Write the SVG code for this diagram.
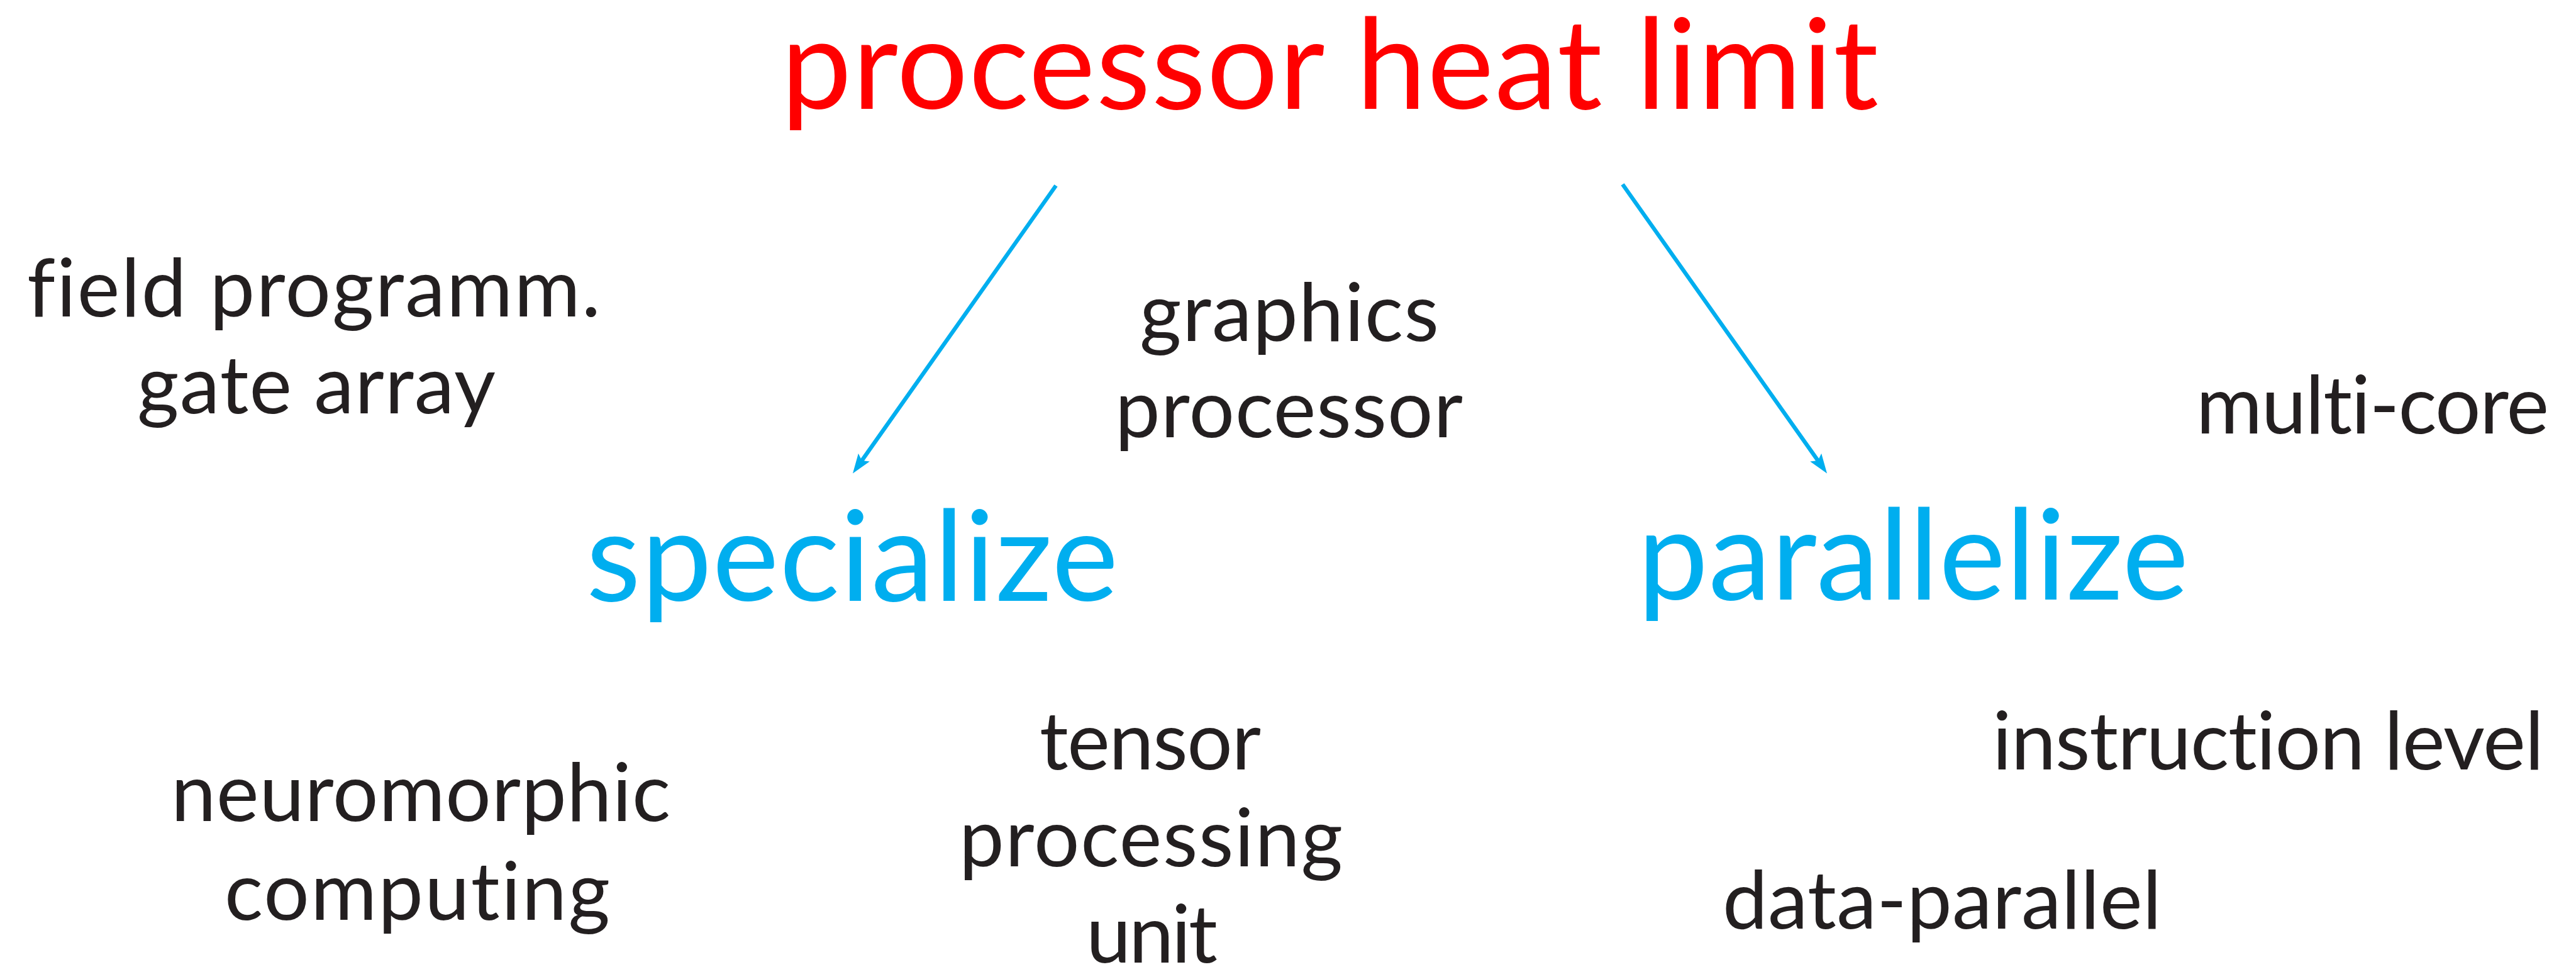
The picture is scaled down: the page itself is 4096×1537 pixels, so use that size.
<svg xmlns="http://www.w3.org/2000/svg" width="4096" height="1537" viewBox="0 0 4096 1537">
<defs>
<style>
text { font-family: Lato, "Open Sans", "Liberation Sans", sans-serif; font-weight: 400; font-variant-ligatures: none; font-feature-settings: "liga" 0, "dlig" 0; }
.big { font-size: 200px; }
.red { fill: #FF0000; }
.blue { fill: #00AEEF; }
.lbl { font-size: 128px; fill: #231F20; }
.conn { stroke: #00AEEF; stroke-width: 6.4; fill: none; }
</style>
<marker id="ah" viewBox="-32 -12 33 24" refX="-24" refY="0" markerWidth="33" markerHeight="24" markerUnits="userSpaceOnUse" orient="auto" overflow="visible">
<path d="M0,0 L-31,-11 L-25,0 L-31,11 Z" fill="#00AEEF"/>
</marker>
</defs>
<rect width="4096" height="1537" fill="#FFFFFF"/>
<g id="connectors">
<line class="conn" x1="1679" y1="295" x2="1369.8" y2="732.9" marker-end="url(#ah)"/>
<line class="conn" x1="2580" y1="293" x2="2891.2" y2="732.9" marker-end="url(#ah)"/>
</g>
<g id="processor-heat-limit"><text class="big red" x="1242" y="173" textLength="1745" lengthAdjust="spacing">processor heat limit</text></g>
<g id="specialize"><text class="big blue" x="932" y="955" textLength="846" lengthAdjust="spacing">specialize</text></g>
<g id="parallelize"><text class="big blue" x="2604" y="953" textLength="876" lengthAdjust="spacing">parallelize</text></g>
<g id="fpga">
<text class="lbl" x="43" y="503" textLength="912" lengthAdjust="spacing">field programm.</text>
<text class="lbl" x="218" y="657" textLength="570" lengthAdjust="spacing">gate array</text>
</g>
<g id="gpu">
<text class="lbl" x="1812" y="542" textLength="476" lengthAdjust="spacing">graphics</text>
<text class="lbl" x="1773" y="695" textLength="553" lengthAdjust="spacing">processor</text>
</g>
<g id="multi-core"><text class="lbl" x="3492" y="689" textLength="561" lengthAdjust="spacing">multi-core</text></g>
<g id="neuromorphic">
<text class="lbl" x="272" y="1305" textLength="794" lengthAdjust="spacing">neuromorphic</text>
<text class="lbl" x="357" y="1462" textLength="613" lengthAdjust="spacing">computing</text>
</g>
<g id="tpu">
<text class="lbl" x="1653" y="1223" textLength="352" lengthAdjust="spacing">tensor</text>
<text class="lbl" x="1525" y="1377" textLength="610" lengthAdjust="spacing">processing</text>
<text class="lbl" x="1727" y="1530" textLength="209" lengthAdjust="spacing">unit</text>
</g>
<g id="instruction-level"><text class="lbl" x="3168" y="1223" textLength="877" lengthAdjust="spacing">instruction level</text></g>
<g id="data-parallel"><text class="lbl" x="2739" y="1476" textLength="698" lengthAdjust="spacing">data-parallel</text></g>
</svg>
